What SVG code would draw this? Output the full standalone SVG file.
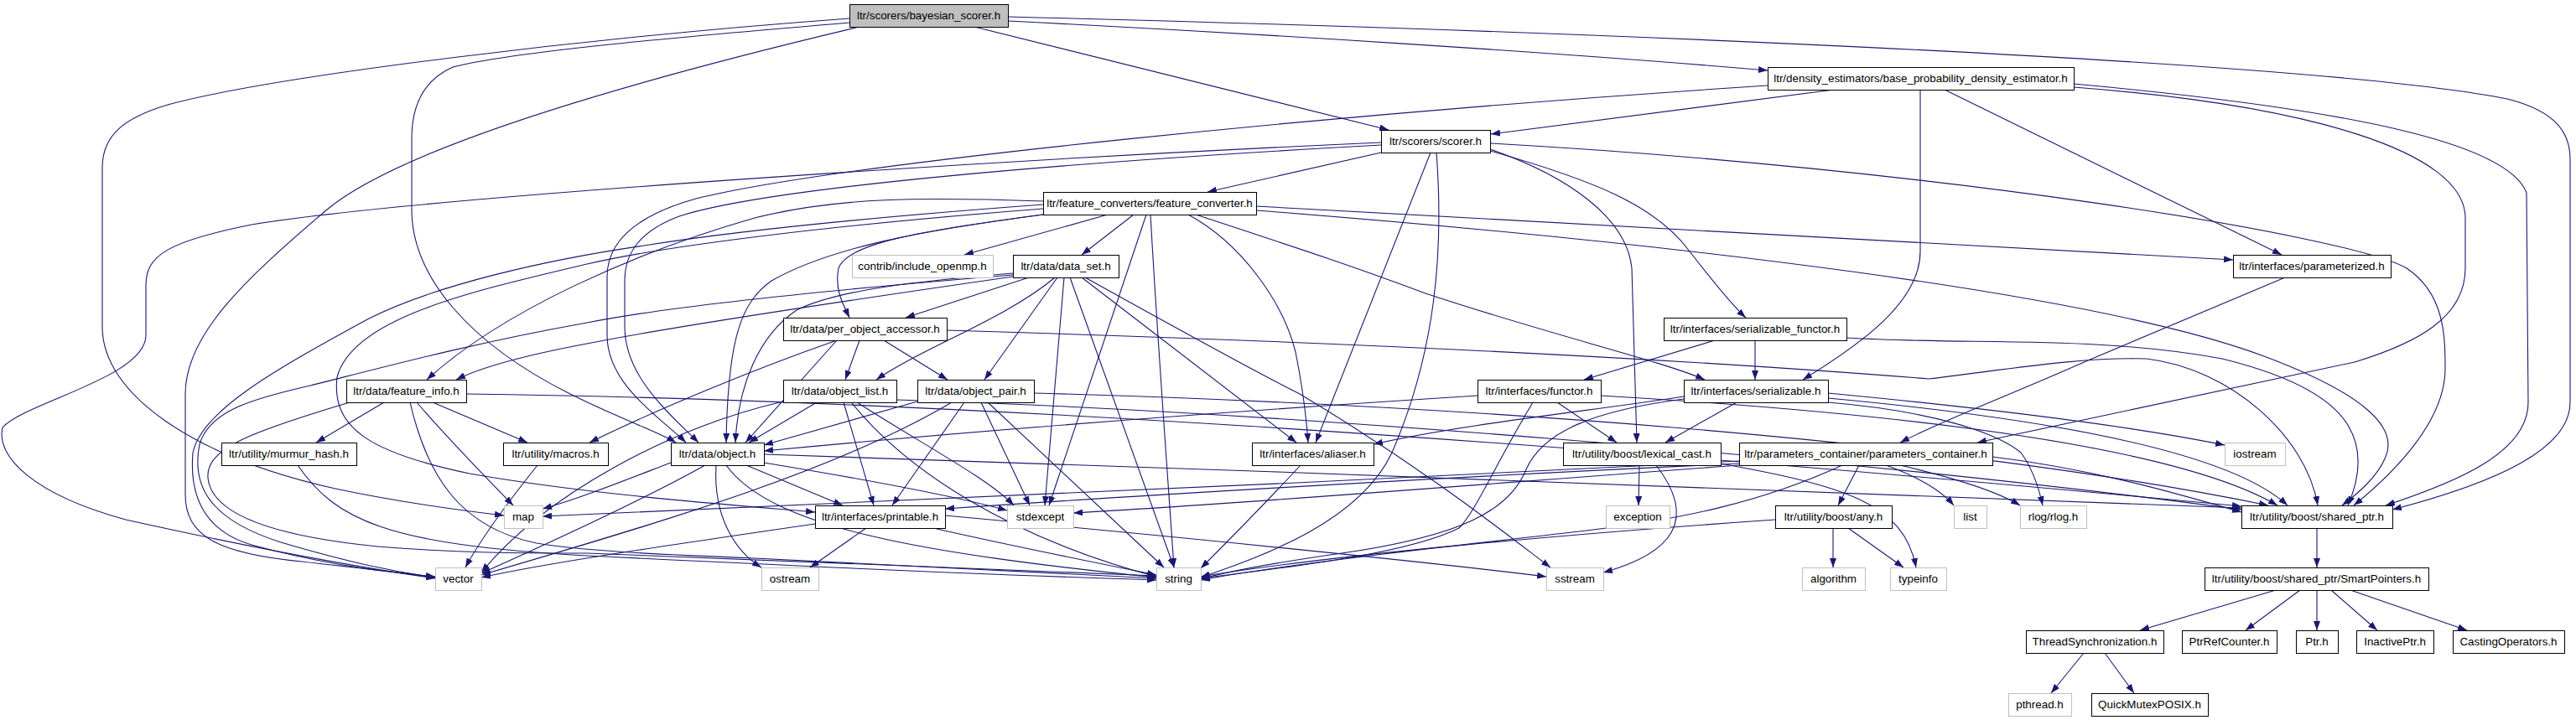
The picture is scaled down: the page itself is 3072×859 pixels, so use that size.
<svg xmlns="http://www.w3.org/2000/svg" width="3072" height="859" viewBox="0 0 3072 859">
<style>
.n rect{fill:#fff;stroke:#000;stroke-width:1}
.g rect{fill:#bfbfbf;stroke:#000;stroke-width:1}
.x rect{fill:#fff;stroke:#bfbfbf;stroke-width:1}
text{font-family:"Liberation Sans",Arial,sans-serif;font-size:13.4px;text-anchor:middle;fill:#000}
#edges path{fill:none;stroke:#191970;stroke-width:1.1;marker-end:url(#ah)}
</style>
<defs>
<marker id="ah" markerWidth="11" markerHeight="8" refX="11" refY="4" orient="auto" markerUnits="userSpaceOnUse"><path d="M0,0 L11,4 L0,8 z" fill="#191970"/></marker>
</defs>
<rect width="3072" height="859" fill="#fff"/>
<g id="edges">
<path d="M1202,25 C1500,40 1850,62 2108,84"/>
<path d="M1202,20 C1800,35 2750,70 2990,118 C3050,133 3065,160 3065,190 L3065,480 C3065,535 2980,575 2853,608"/>
<path d="M1162,32 L1656,155"/>
<path d="M1025,32 C760,95 480,175 390,250 C290,335 221,400 221,470 L221,590 C221,640 260,660 360,670 C430,678 480,683 519,689"/>
<path d="M1013,22 C700,45 330,90 200,125 C150,140 122,160 122,200 L122,390 C122,470 230,545 400,583 C480,600 550,609 601,615"/>
<path d="M1013,27 C800,45 610,62 540,80 C506,95 491,125 491,165 L491,250 C491,330 560,410 680,470 C740,500 785,515 806,528"/>
<path d="M2187,107 L1778,160"/>
<path d="M2108,102 C1600,135 1000,195 830,237 C755,258 724,290 724,330 L724,400 C724,460 790,500 818,528"/>
<path d="M2319,107 L2721,304"/>
<path d="M2290,107 L2290,300 C2290,360 2220,410 2150,453"/>
<path d="M2473,104 C2750,125 2940,180 2940,260 L2940,320 C2940,380 2880,410 2808,432 L2358,528"/>
<path d="M2473,100 C2800,130 2990,170 3013,230 L3015,480 C3015,540 2930,575 2845,603"/>
<path d="M1647,182 L1440,229"/>
<path d="M1647,170 C1200,190 500,235 300,268 C200,288 174,305 174,340 L174,400 C174,450 30,480 3,510 C-5,545 40,590 150,620 C330,660 450,680 519,690"/>
<path d="M1647,173 C1300,192 920,222 810,258 C765,275 745,300 745,335 L745,390 C745,450 800,495 833,528"/>
<path d="M1706,182 L1569,528"/>
<path d="M1713,182 C1722,300 1712,420 1660,540 C1620,625 1500,665 1432,689"/>
<path d="M1777,178 C1870,210 1940,260 1946,320 L1952,528"/>
<path d="M1777,180 C1900,215 1975,245 2015,300 C2050,345 2072,370 2082,379"/>
<path d="M1777,171 C2300,200 2800,280 2870,320 C2915,350 2916,400 2916,440 C2916,500 2860,560 2807,603"/>
<path d="M1321,256 L1150,304"/>
<path d="M1352,256 L1290,304"/>
<path d="M1367,256 L1251,603"/>
<path d="M1372,256 C1380,400 1392,560 1400,677"/>
<path d="M1417,256 C1480,290 1530,360 1545,420 C1555,470 1558,500 1560,528"/>
<path d="M1426,256 C1560,300 1620,320 1700,350 C1850,400 1980,430 2033,453"/>
<path d="M1498,246 C2000,270 2400,292 2663,310"/>
<path d="M1498,251 C2000,290 2500,350 2700,425 C2820,470 2860,510 2845,545 C2835,570 2810,590 2793,603"/>
<path d="M1244,256 C1100,275 990,295 920,335 C885,360 868,400 866,528"/>
<path d="M1244,240 C1100,235 1000,235 900,260 C760,300 600,370 509,453"/>
<path d="M1244,256 C1100,275 1010,290 1000,320 C995,345 1005,362 1013,379"/>
<path d="M1244,244 C1000,262 850,280 768,293 C650,310 520,340 440,380 C330,440 240,490 230,540 C225,600 250,635 300,650 C380,672 450,682 519,688"/>
<path d="M1244,249 C1000,268 800,292 700,315 C560,348 420,380 402,450 C395,510 440,540 560,565 C700,590 880,603 972,611"/>
<path d="M1227,331 L1080,379"/>
<path d="M1258,331 C1200,380 1100,415 1045,453"/>
<path d="M1261,331 L1174,453"/>
<path d="M1269,331 L1246,603"/>
<path d="M1276,331 L1400,677"/>
<path d="M1290,331 L1546,528"/>
<path d="M1294,331 C1400,390 1500,445 1550,470 C1700,560 1800,640 1849,677"/>
<path d="M1208,326 C1100,335 1000,345 950,370 C905,400 880,460 877,528"/>
<path d="M1208,328 C1000,345 800,365 700,385 C560,410 450,440 370,460 C300,476 250,490 238,530 C228,580 250,620 335,647 C420,672 470,682 519,689"/>
<path d="M1208,330 C1000,360 800,390 700,410 C620,425 570,440 544,453"/>
<path d="M2725,331 L2490,430 C2400,470 2320,500 2266,528"/>
<path d="M998,406 C900,440 780,490 703,528"/>
<path d="M998,406 L889,528"/>
<path d="M1025,406 L1008,453"/>
<path d="M1054,406 L1130,453"/>
<path d="M1129,394 C1600,408 2000,428 2300,452 C2400,440 2480,426 2560,428 C2660,440 2750,520 2764,603"/>
<path d="M2045,406 L1889,453"/>
<path d="M2093,406 L2093,453"/>
<path d="M2202,403 C2350,412 2500,400 2650,428 C2780,460 2840,510 2800,603"/>
<path d="M458,480 L377,528"/>
<path d="M516,480 L629,528"/>
<path d="M497,480 C540,530 580,570 612,603"/>
<path d="M556,470 C1200,478 2000,540 2673,604"/>
<path d="M417,480 C300,515 245,535 248,570 C252,615 330,640 450,652 C550,660 620,660 700,660 C1000,672 1250,682 1379,687"/>
<path d="M489,480 C510,570 550,630 640,648 C700,658 800,662 900,666 C1100,675 1250,684 1379,690"/>
<path d="M974,480 L893,528"/>
<path d="M1006,480 L1042,603"/>
<path d="M1022,480 C1100,530 1180,572 1209,603"/>
<path d="M1015,480 C1080,560 1200,640 1379,688"/>
<path d="M1069,477 C1500,490 2200,545 2673,608"/>
<path d="M934,479 C800,510 650,590 574,683"/>
<path d="M1094,479 L911,531"/>
<path d="M1150,480 L1064,603"/>
<path d="M1170,480 L1228,603"/>
<path d="M1178,480 L1388,677"/>
<path d="M1233,469 C1700,482 2300,520 2705,603"/>
<path d="M1135,480 C1000,560 800,620 574,686"/>
<path d="M1762,472 C1400,495 1100,520 911,538"/>
<path d="M1857,480 L1928,528"/>
<path d="M1828,480 C1780,560 1760,610 1740,630 C1680,660 1550,675 1432,690"/>
<path d="M1909,472 C2300,495 2600,535 2716,603"/>
<path d="M2071,480 L1986,528"/>
<path d="M2008,473 C1900,490 1750,505 1638,530"/>
<path d="M2008,476 C1900,490 1840,515 1820,560 C1800,610 1740,640 1600,660 C1530,670 1470,680 1432,691"/>
<path d="M2180,469 C2400,490 2550,510 2653,531"/>
<path d="M2180,475 C2450,500 2660,540 2728,603"/>
<path d="M2180,480 C2300,490 2380,515 2410,540 C2425,560 2432,585 2436,603"/>
<path d="M1955,555 L1954,603"/>
<path d="M1975,555 C2025,620 1995,660 1912,683"/>
<path d="M2052,553 C2200,580 2270,600 2285,677"/>
<path d="M2217,555 L2192,603"/>
<path d="M2074,553 C1700,570 1300,595 1127,607"/>
<path d="M2074,555 C1800,575 1500,600 1280,612"/>
<path d="M2074,550 C1600,575 900,605 647,616"/>
<path d="M2197,555 C2100,600 2000,620 1900,632 C1750,650 1550,670 1432,692"/>
<path d="M2249,555 C2290,570 2315,585 2330,603"/>
<path d="M2266,555 C2330,570 2380,585 2409,603"/>
<path d="M2376,545 C2500,560 2600,590 2673,611"/>
<path d="M2186,630 L2186,677"/>
<path d="M2204,630 L2270,677"/>
<path d="M2117,620 C1900,635 1600,660 1432,688"/>
<path d="M800,552 C740,575 690,595 647,607"/>
<path d="M841,555 C760,600 650,650 574,684"/>
<path d="M854,555 C850,620 880,660 908,677"/>
<path d="M890,555 L1005,603"/>
<path d="M911,552 C1050,575 1150,595 1201,609"/>
<path d="M866,555 C920,630 1100,660 1379,689"/>
<path d="M911,542 C1500,560 2200,590 2673,606"/>
<path d="M1033,630 L966,677"/>
<path d="M1113,630 C1200,650 1300,670 1379,686"/>
<path d="M1127,615 C1400,640 1700,670 1844,688"/>
<path d="M972,625 C800,650 650,672 574,689"/>
<path d="M641,555 C605,600 575,640 555,677"/>
<path d="M355,555 C400,620 460,650 700,663 C1000,678 1250,688 1379,692"/>
<path d="M1551,555 C1500,610 1460,650 1432,678"/>
<path d="M2763,630 L2763,677"/>
<path d="M2714,704 L2552,752"/>
<path d="M2743,704 L2678,752"/>
<path d="M2763,704 L2763,752"/>
<path d="M2780,704 L2835,752"/>
<path d="M2803,704 L2942,752"/>
<path d="M2485,779 L2446,827"/>
<path d="M2510,779 L2545,827"/>
</g>
<g id="n_bayesian" class="g"><rect x="1013.5" y="5.5" width="189" height="27"/><text x="1107.5" y="23">ltr/scorers/bayesian_scorer.h</text></g>
<g id="n_base_prob" class="n"><rect x="2108.5" y="80.5" width="365" height="27"/><text x="2290.5" y="98">ltr/density_estimators/base_probability_density_estimator.h</text></g>
<g id="n_scorer" class="n"><rect x="1647.5" y="155.5" width="130" height="27"/><text x="1712" y="173">ltr/scorers/scorer.h</text></g>
<g id="n_feature_converter" class="n"><rect x="1244.5" y="229.5" width="254" height="27"/><text x="1371" y="247">ltr/feature_converters/feature_converter.h</text></g>
<g id="n_openmp" class="x"><rect x="1016.5" y="304.5" width="168" height="27"/><text x="1100" y="322">contrib/include_openmp.h</text></g>
<g id="n_data_set" class="n"><rect x="1208.5" y="304.5" width="126" height="27"/><text x="1271" y="322">ltr/data/data_set.h</text></g>
<g id="n_parameterized" class="n"><rect x="2663.5" y="304.5" width="188" height="27"/><text x="2757" y="322">ltr/interfaces/parameterized.h</text></g>
<g id="n_per_object_accessor" class="n"><rect x="934.5" y="379.5" width="195" height="27"/><text x="1031.5" y="397">ltr/data/per_object_accessor.h</text></g>
<g id="n_serializable_functor" class="n"><rect x="1984.5" y="379.5" width="218" height="27"/><text x="2093" y="397">ltr/interfaces/serializable_functor.h</text></g>
<g id="n_feature_info" class="n"><rect x="413.5" y="453.5" width="143" height="27"/><text x="484.5" y="471">ltr/data/feature_info.h</text></g>
<g id="n_object_list" class="n"><rect x="934.5" y="453.5" width="135" height="27"/><text x="1001.5" y="471">ltr/data/object_list.h</text></g>
<g id="n_object_pair" class="n"><rect x="1094.5" y="453.5" width="139" height="27"/><text x="1163.5" y="471">ltr/data/object_pair.h</text></g>
<g id="n_functor" class="n"><rect x="1762.5" y="453.5" width="147" height="27"/><text x="1835.5" y="471">ltr/interfaces/functor.h</text></g>
<g id="n_serializable" class="n"><rect x="2008.5" y="453.5" width="172" height="27"/><text x="2094" y="471">ltr/interfaces/serializable.h</text></g>
<g id="n_murmur_hash" class="n"><rect x="264.5" y="528.5" width="161" height="27"/><text x="344.5" y="546">ltr/utility/murmur_hash.h</text></g>
<g id="n_macros" class="n"><rect x="600.5" y="528.5" width="125" height="27"/><text x="662.5" y="546">ltr/utility/macros.h</text></g>
<g id="n_object" class="n"><rect x="800.5" y="528.5" width="111" height="27"/><text x="855.5" y="546">ltr/data/object.h</text></g>
<g id="n_aliaser" class="n"><rect x="1493.5" y="528.5" width="145" height="27"/><text x="1565.5" y="546">ltr/interfaces/aliaser.h</text></g>
<g id="n_lexical_cast" class="n"><rect x="1864.5" y="528.5" width="188" height="27"/><text x="1958" y="546">ltr/utility/boost/lexical_cast.h</text></g>
<g id="n_parameters_container" class="n"><rect x="2074.5" y="528.5" width="302" height="27"/><text x="2225" y="546">ltr/parameters_container/parameters_container.h</text></g>
<g id="n_iostream" class="x"><rect x="2653.5" y="528.5" width="72" height="27"/><text x="2689" y="546">iostream</text></g>
<g id="n_map" class="x"><rect x="601.5" y="603.5" width="46" height="27"/><text x="624" y="621">map</text></g>
<g id="n_printable" class="n"><rect x="972.5" y="603.5" width="155" height="27"/><text x="1049.5" y="621">ltr/interfaces/printable.h</text></g>
<g id="n_stdexcept" class="x"><rect x="1201.5" y="603.5" width="79" height="27"/><text x="1240.5" y="621">stdexcept</text></g>
<g id="n_exception" class="x"><rect x="1915.5" y="603.5" width="76" height="27"/><text x="1953" y="621">exception</text></g>
<g id="n_any" class="n"><rect x="2117.5" y="603.5" width="139" height="27"/><text x="2186.5" y="621">ltr/utility/boost/any.h</text></g>
<g id="n_list" class="x"><rect x="2330.5" y="603.5" width="39" height="27"/><text x="2349.5" y="621">list</text></g>
<g id="n_rlog" class="x"><rect x="2409.5" y="603.5" width="79" height="27"/><text x="2448.5" y="621">rlog/rlog.h</text></g>
<g id="n_shared_ptr" class="n"><rect x="2673.5" y="603.5" width="180" height="27"/><text x="2763" y="621">ltr/utility/boost/shared_ptr.h</text></g>
<g id="n_vector" class="x"><rect x="519.5" y="677.5" width="55" height="27"/><text x="546.5" y="695">vector</text></g>
<g id="n_ostream" class="x"><rect x="908.5" y="677.5" width="68" height="27"/><text x="942" y="695">ostream</text></g>
<g id="n_string" class="x"><rect x="1379.5" y="677.5" width="53" height="27"/><text x="1405.5" y="695">string</text></g>
<g id="n_sstream" class="x"><rect x="1844.5" y="677.5" width="68" height="27"/><text x="1878" y="695">sstream</text></g>
<g id="n_algorithm" class="x"><rect x="2149.5" y="677.5" width="75" height="27"/><text x="2186.5" y="695">algorithm</text></g>
<g id="n_typeinfo" class="x"><rect x="2254.5" y="677.5" width="67" height="27"/><text x="2287.5" y="695">typeinfo</text></g>
<g id="n_smartpointers" class="n"><rect x="2629.5" y="677.5" width="267" height="27"/><text x="2762.5" y="695">ltr/utility/boost/shared_ptr/SmartPointers.h</text></g>
<g id="n_threadsync" class="n"><rect x="2416.5" y="752.5" width="164" height="27"/><text x="2498" y="770">ThreadSynchronization.h</text></g>
<g id="n_ptrrefcounter" class="n"><rect x="2602.5" y="752.5" width="113" height="27"/><text x="2658.5" y="770">PtrRefCounter.h</text></g>
<g id="n_ptr" class="n"><rect x="2738.5" y="752.5" width="50" height="27"/><text x="2763" y="770">Ptr.h</text></g>
<g id="n_inactiveptr" class="n"><rect x="2810.5" y="752.5" width="92" height="27"/><text x="2856" y="770">InactivePtr.h</text></g>
<g id="n_castingoperators" class="n"><rect x="2925.5" y="752.5" width="133" height="27"/><text x="2991.5" y="770">CastingOperators.h</text></g>
<g id="n_pthread" class="x"><rect x="2395.5" y="827.5" width="75" height="27"/><text x="2432.5" y="845">pthread.h</text></g>
<g id="n_quickmutex" class="n"><rect x="2494.5" y="827.5" width="139" height="27"/><text x="2563.5" y="845">QuickMutexPOSIX.h</text></g>
</svg>
